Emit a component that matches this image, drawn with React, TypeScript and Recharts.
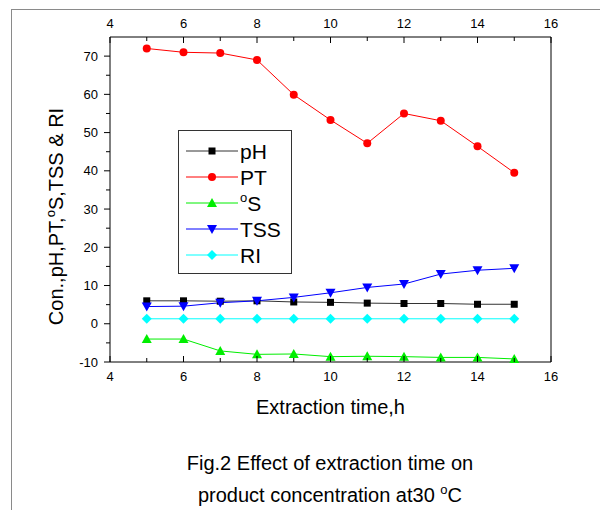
import { LineChart, Line, XAxis, YAxis, Legend } from 'recharts';

const hours = [5, 6, 7, 8, 9, 10, 11, 12, 13, 14, 15];
const pH = [6.0, 6.0, 5.9, 6.0, 5.7, 5.6, 5.4, 5.3, 5.3, 5.1, 5.1];
const pt = [72.0, 71.0, 70.8, 69.0, 59.9, 53.3, 47.2, 55.0, 53.1, 46.4, 39.5];
const oS = [-4.0, -4.0, -7.1, -8.0, -7.9, -8.6, -8.5, -8.6, -8.8, -8.8, -9.2];
const tss = [4.5, 4.6, 5.5, 6.0, 6.9, 8.1, 9.5, 10.4, 13.0, 14.0, 14.5];
const ri = [1.3, 1.3, 1.3, 1.3, 1.3, 1.3, 1.3, 1.3, 1.3, 1.3, 1.3];

const xTicks = [4, 5, 6, 7, 8, 9, 10, 11, 12, 13, 14, 15, 16];
const yTicks = [-10, -5, 0, 5, 10, 15, 20, 25, 30, 35, 40, 45, 50, 55, 60, 65, 70];

const data = hours.map((h, i) => ({ h, pH: pH[i], PT: pt[i], oS: oS[i], TSS: tss[i], RI: ri[i] }));

const FONT = '"Liberation Sans", Arial, sans-serif';

const series = [
  { key: 'pH', color: '#000000', line: '#333333', shape: 'square' },
  { key: 'PT', color: '#ff0000', line: '#ff0000', shape: 'circle' },
  { key: 'oS', color: '#00ee00', line: '#00ee00', shape: 'up' },
  { key: 'TSS', color: '#0000ff', line: '#0000ff', shape: 'down' },
  { key: 'RI', color: '#00ffff', line: '#00ffff', shape: 'diamond' },
];

function Marker({ cx, cy, shape, color }: any) {
  if (cx == null || cy == null) return null;
  switch (shape) {
    case 'square':
      return <rect x={cx - 3.5} y={cy - 3.5} width={7} height={7} fill={color} />;
    case 'circle':
      return <circle cx={cx} cy={cy} r={4} fill={color} />;
    case 'up':
      return <polygon points={`${cx},${cy - 5} ${cx + 5},${cy + 4} ${cx - 5},${cy + 4}`} fill={color} />;
    case 'down':
      return <polygon points={`${cx},${cy + 5} ${cx + 5},${cy - 4} ${cx - 5},${cy - 4}`} fill={color} />;
    default:
      return <polygon points={`${cx},${cy - 5} ${cx + 5},${cy} ${cx},${cy + 5} ${cx - 5},${cy}`} fill={color} />;
  }
}

const tickText = { fontFamily: FONT, fontSize: 13, fill: '#000' };

const BottomTick = ({ x, y, payload }: any) => {
  const major = payload.value % 2 === 0;
  const ay = y - 10;
  return (
    <g>
      <line x1={x} x2={x} y1={ay} y2={ay - (major ? 6 : 4)} stroke="#000" />
      {major && <text x={x} y={y} dy="0.71em" textAnchor="middle" {...tickText}>{payload.value}</text>}
    </g>
  );
};

const TopTick = ({ x, y, payload }: any) => {
  const major = payload.value % 2 === 0;
  const ay = y + 9;
  return (
    <g>
      <line x1={x} x2={x} y1={ay} y2={ay + (major ? 6 : 4)} stroke="#000" />
      {major && <text x={x} y={y} textAnchor="middle" {...tickText}>{payload.value}</text>}
    </g>
  );
};

const LeftTick = ({ x, y, payload }: any) => {
  const major = payload.value % 10 === 0;
  const ax = x + 12;
  return (
    <g>
      <line x1={ax} x2={ax - (major ? 6 : 4)} y1={y} y2={y} stroke="#000" />
      {major && <text x={x} y={y} dy="0.35em" textAnchor="end" {...tickText}>{payload.value}</text>}
    </g>
  );
};

const RightTick = ({ x, y, payload }: any) => {
  const major = payload.value % 10 === 0;
  return <line x1={x} x2={x - (major ? 6 : 4)} y1={y} y2={y} stroke="#000" />;
};

const YTitle = ({ viewBox }: any) => {
  const x = viewBox.x + viewBox.width - 47;
  const y = viewBox.y + viewBox.height / 2 + 17;
  return (
    <text x={x} y={y} transform={`rotate(-90 ${x} ${y})`} textAnchor="middle" fontFamily={FONT} fontSize={20} fill="#000">
      Con.,pH,PT,
      <tspan fontSize={13} dy={-8}>o</tspan>
      <tspan dy={8}>S,TSS &amp; RI</tspan>
    </text>
  );
};

const XTitle = ({ viewBox }: any) => (
  <text x={viewBox.x + viewBox.width / 2} y={viewBox.y + 52} textAnchor="middle" fontFamily={FONT} fontSize={20} fill="#000">
    Extraction time,h
  </text>
);

// drawn from the series list so the order stays pH, PT, oS, TSS, RI
const LegendBox = () => (
  <svg width={114} height={144} style={{ display: 'block' }}>
    <rect x={0.5} y={0.5} width={113} height={143} fill="#fff" stroke="#333" />
    {series.map((s, i) => {
      const y = 21 + i * 26;
      return (
        <g key={s.key}>
          <line x1={8} x2={60} y1={y} y2={y} stroke={s.line} />
          <Marker cx={34} cy={y} shape={s.shape} color={s.color} />
          {s.key === 'oS' ? (
            <text x={62} y={y + 8} fontFamily={FONT} fontSize={21} fill="#000">
              <tspan fontSize={13} dy={-9}>o</tspan>
              <tspan dy={9}>S</tspan>
            </text>
          ) : (
            <text x={62} y={y + 8} fontFamily={FONT} fontSize={21} fill="#000">
              {s.key}
            </text>
          )}
        </g>
      );
    })}
  </svg>
);

export default function App() {
  return (
    <div
      style={{
        position: 'relative',
        marginLeft: 3,
        marginTop: 1,
        width: 597,
        height: 500,
        borderTop: '1px solid #8a8a8a',
        borderLeft: '1px solid #8a8a8a',
        fontFamily: FONT,
      }}
    >
      <LineChart width={597} height={500} data={data} margin={{ top: 7, right: 48, bottom: 118, left: 68 }}>
        <XAxis
          xAxisId="bottom"
          dataKey="h"
          type="number"
          domain={[4, 16]}
          ticks={xTicks}
          interval={0}
          height={30}
          tickSize={0}
          tickMargin={10}
          tick={BottomTick}
          axisLine={{ stroke: '#000' }}
          label={XTitle}
        />
        <XAxis
          xAxisId="top"
          orientation="top"
          dataKey="h"
          type="number"
          domain={[4, 16]}
          ticks={xTicks}
          interval={0}
          height={20}
          tickSize={0}
          tickMargin={9}
          tick={TopTick}
          axisLine={{ stroke: '#000' }}
        />
        <YAxis
          yAxisId="left"
          type="number"
          domain={[-10, 75]}
          ticks={yTicks}
          interval={0}
          width={30}
          tickSize={0}
          tickMargin={12}
          tick={LeftTick}
          axisLine={{ stroke: '#000' }}
          label={YTitle}
        />
        <YAxis
          yAxisId="right"
          orientation="right"
          type="number"
          domain={[-10, 75]}
          ticks={yTicks}
          interval={0}
          width={10}
          tickSize={0}
          tickMargin={0}
          tick={RightTick}
          axisLine={{ stroke: '#000' }}
        />
        <Legend
          layout="vertical"
          align="center"
          verticalAlign="middle"
          content={LegendBox}
          wrapperStyle={{ left: 166, top: 120, width: 114, height: 144 }}
        />
        {series.map((s) => (
          <Line
            key={s.key}
            xAxisId="bottom"
            yAxisId="left"
            dataKey={s.key}
            stroke={s.line}
            strokeWidth={1}
            isAnimationActive={false}
            dot={(p: any) => <Marker key={`${s.key}-${p.index}`} cx={p.cx} cy={p.cy} shape={s.shape} color={s.color} />}
            activeDot={false}
          />
        ))}
      </LineChart>
      <div
        style={{
          position: 'absolute',
          left: 98,
          top: 437,
          width: 440,
          textAlign: 'center',
          fontSize: 20,
          lineHeight: '32px',
          color: '#000',
        }}
      >
        <div>Fig.2 Effect of extraction time on</div>
        <div>
          product concentration at30 <sup style={{ fontSize: 13, lineHeight: 0 }}>o</sup>C
        </div>
      </div>
    </div>
  );
}
